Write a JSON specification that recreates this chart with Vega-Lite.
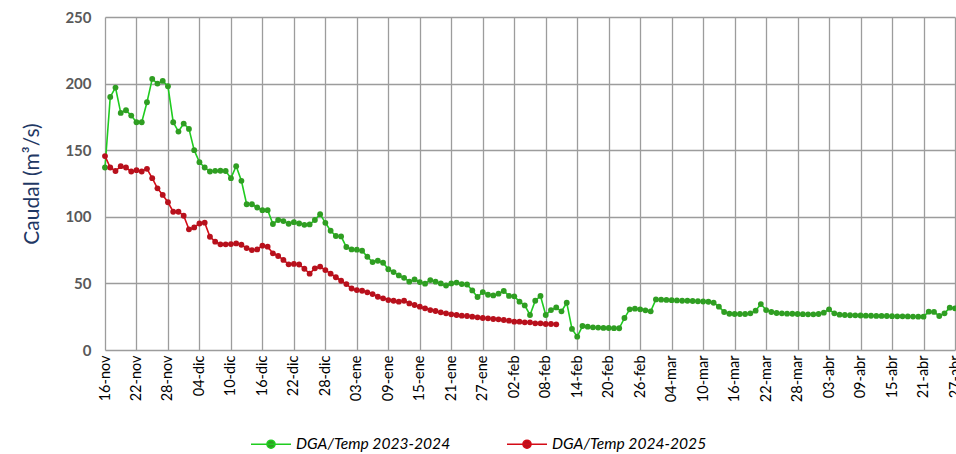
{
  "$schema": "https://vega.github.io/schema/vega-lite/v6.json",
  "width": 850,
  "height": 333,
  "autosize": {"type": "none"},
  "padding": {"left": 105, "top": 17, "right": 1, "bottom": 104},
  "background": "white",
  "config": {"view": {"stroke": null}, "font": "Lato"},
  "data": {"values": [
    {"fecha":"2024-11-16","serie":"DGA/Temp 2023-2024","caudal":137},
    {"fecha":"2024-11-17","serie":"DGA/Temp 2023-2024","caudal":190},
    {"fecha":"2024-11-18","serie":"DGA/Temp 2023-2024","caudal":197},
    {"fecha":"2024-11-19","serie":"DGA/Temp 2023-2024","caudal":178},
    {"fecha":"2024-11-20","serie":"DGA/Temp 2023-2024","caudal":180},
    {"fecha":"2024-11-21","serie":"DGA/Temp 2023-2024","caudal":176},
    {"fecha":"2024-11-22","serie":"DGA/Temp 2023-2024","caudal":171},
    {"fecha":"2024-11-23","serie":"DGA/Temp 2023-2024","caudal":171},
    {"fecha":"2024-11-24","serie":"DGA/Temp 2023-2024","caudal":186},
    {"fecha":"2024-11-25","serie":"DGA/Temp 2023-2024","caudal":203.5},
    {"fecha":"2024-11-26","serie":"DGA/Temp 2023-2024","caudal":200},
    {"fecha":"2024-11-27","serie":"DGA/Temp 2023-2024","caudal":202},
    {"fecha":"2024-11-28","serie":"DGA/Temp 2023-2024","caudal":198},
    {"fecha":"2024-11-29","serie":"DGA/Temp 2023-2024","caudal":171},
    {"fecha":"2024-11-30","serie":"DGA/Temp 2023-2024","caudal":164},
    {"fecha":"2024-12-01","serie":"DGA/Temp 2023-2024","caudal":170},
    {"fecha":"2024-12-02","serie":"DGA/Temp 2023-2024","caudal":166},
    {"fecha":"2024-12-03","serie":"DGA/Temp 2023-2024","caudal":150},
    {"fecha":"2024-12-04","serie":"DGA/Temp 2023-2024","caudal":141},
    {"fecha":"2024-12-05","serie":"DGA/Temp 2023-2024","caudal":137},
    {"fecha":"2024-12-06","serie":"DGA/Temp 2023-2024","caudal":134},
    {"fecha":"2024-12-07","serie":"DGA/Temp 2023-2024","caudal":134.5},
    {"fecha":"2024-12-08","serie":"DGA/Temp 2023-2024","caudal":134.6},
    {"fecha":"2024-12-09","serie":"DGA/Temp 2023-2024","caudal":134.4},
    {"fecha":"2024-12-10","serie":"DGA/Temp 2023-2024","caudal":129},
    {"fecha":"2024-12-11","serie":"DGA/Temp 2023-2024","caudal":138},
    {"fecha":"2024-12-12","serie":"DGA/Temp 2023-2024","caudal":127},
    {"fecha":"2024-12-13","serie":"DGA/Temp 2023-2024","caudal":109.4},
    {"fecha":"2024-12-14","serie":"DGA/Temp 2023-2024","caudal":109.4},
    {"fecha":"2024-12-15","serie":"DGA/Temp 2023-2024","caudal":107},
    {"fecha":"2024-12-16","serie":"DGA/Temp 2023-2024","caudal":105},
    {"fecha":"2024-12-17","serie":"DGA/Temp 2023-2024","caudal":105},
    {"fecha":"2024-12-18","serie":"DGA/Temp 2023-2024","caudal":94.6},
    {"fecha":"2024-12-19","serie":"DGA/Temp 2023-2024","caudal":97.6},
    {"fecha":"2024-12-20","serie":"DGA/Temp 2023-2024","caudal":96.8},
    {"fecha":"2024-12-21","serie":"DGA/Temp 2023-2024","caudal":94.8},
    {"fecha":"2024-12-22","serie":"DGA/Temp 2023-2024","caudal":96},
    {"fecha":"2024-12-23","serie":"DGA/Temp 2023-2024","caudal":95},
    {"fecha":"2024-12-24","serie":"DGA/Temp 2023-2024","caudal":94},
    {"fecha":"2024-12-25","serie":"DGA/Temp 2023-2024","caudal":94.3},
    {"fecha":"2024-12-26","serie":"DGA/Temp 2023-2024","caudal":97.6},
    {"fecha":"2024-12-27","serie":"DGA/Temp 2023-2024","caudal":102},
    {"fecha":"2024-12-28","serie":"DGA/Temp 2023-2024","caudal":95.5},
    {"fecha":"2024-12-29","serie":"DGA/Temp 2023-2024","caudal":89.5},
    {"fecha":"2024-12-30","serie":"DGA/Temp 2023-2024","caudal":85.6},
    {"fecha":"2024-12-31","serie":"DGA/Temp 2023-2024","caudal":85.3},
    {"fecha":"2025-01-01","serie":"DGA/Temp 2023-2024","caudal":77.3},
    {"fecha":"2025-01-02","serie":"DGA/Temp 2023-2024","caudal":75.5},
    {"fecha":"2025-01-03","serie":"DGA/Temp 2023-2024","caudal":75.3},
    {"fecha":"2025-01-04","serie":"DGA/Temp 2023-2024","caudal":74.5},
    {"fecha":"2025-01-05","serie":"DGA/Temp 2023-2024","caudal":70},
    {"fecha":"2025-01-06","serie":"DGA/Temp 2023-2024","caudal":66},
    {"fecha":"2025-01-07","serie":"DGA/Temp 2023-2024","caudal":67},
    {"fecha":"2025-01-08","serie":"DGA/Temp 2023-2024","caudal":65.5},
    {"fecha":"2025-01-09","serie":"DGA/Temp 2023-2024","caudal":60.6},
    {"fecha":"2025-01-10","serie":"DGA/Temp 2023-2024","caudal":58.5},
    {"fecha":"2025-01-11","serie":"DGA/Temp 2023-2024","caudal":56},
    {"fecha":"2025-01-12","serie":"DGA/Temp 2023-2024","caudal":54.2},
    {"fecha":"2025-01-13","serie":"DGA/Temp 2023-2024","caudal":51.3},
    {"fecha":"2025-01-14","serie":"DGA/Temp 2023-2024","caudal":53},
    {"fecha":"2025-01-15","serie":"DGA/Temp 2023-2024","caudal":51},
    {"fecha":"2025-01-16","serie":"DGA/Temp 2023-2024","caudal":49.8},
    {"fecha":"2025-01-17","serie":"DGA/Temp 2023-2024","caudal":52.5},
    {"fecha":"2025-01-18","serie":"DGA/Temp 2023-2024","caudal":51.3},
    {"fecha":"2025-01-19","serie":"DGA/Temp 2023-2024","caudal":50},
    {"fecha":"2025-01-20","serie":"DGA/Temp 2023-2024","caudal":48.4},
    {"fecha":"2025-01-21","serie":"DGA/Temp 2023-2024","caudal":50},
    {"fecha":"2025-01-22","serie":"DGA/Temp 2023-2024","caudal":50.6},
    {"fecha":"2025-01-23","serie":"DGA/Temp 2023-2024","caudal":49.5},
    {"fecha":"2025-01-24","serie":"DGA/Temp 2023-2024","caudal":49.2},
    {"fecha":"2025-01-25","serie":"DGA/Temp 2023-2024","caudal":44.7},
    {"fecha":"2025-01-26","serie":"DGA/Temp 2023-2024","caudal":39.8},
    {"fecha":"2025-01-27","serie":"DGA/Temp 2023-2024","caudal":43.5},
    {"fecha":"2025-01-28","serie":"DGA/Temp 2023-2024","caudal":41.5},
    {"fecha":"2025-01-29","serie":"DGA/Temp 2023-2024","caudal":41},
    {"fecha":"2025-01-30","serie":"DGA/Temp 2023-2024","caudal":42.3},
    {"fecha":"2025-01-31","serie":"DGA/Temp 2023-2024","caudal":44.3},
    {"fecha":"2025-02-01","serie":"DGA/Temp 2023-2024","caudal":40.6},
    {"fecha":"2025-02-02","serie":"DGA/Temp 2023-2024","caudal":40.3},
    {"fecha":"2025-02-03","serie":"DGA/Temp 2023-2024","caudal":36.3},
    {"fecha":"2025-02-04","serie":"DGA/Temp 2023-2024","caudal":33.5},
    {"fecha":"2025-02-05","serie":"DGA/Temp 2023-2024","caudal":26.3},
    {"fecha":"2025-02-06","serie":"DGA/Temp 2023-2024","caudal":37},
    {"fecha":"2025-02-07","serie":"DGA/Temp 2023-2024","caudal":40.6},
    {"fecha":"2025-02-08","serie":"DGA/Temp 2023-2024","caudal":26.3},
    {"fecha":"2025-02-09","serie":"DGA/Temp 2023-2024","caudal":30},
    {"fecha":"2025-02-10","serie":"DGA/Temp 2023-2024","caudal":32},
    {"fecha":"2025-02-11","serie":"DGA/Temp 2023-2024","caudal":29},
    {"fecha":"2025-02-12","serie":"DGA/Temp 2023-2024","caudal":35.5},
    {"fecha":"2025-02-13","serie":"DGA/Temp 2023-2024","caudal":15.8},
    {"fecha":"2025-02-14","serie":"DGA/Temp 2023-2024","caudal":10},
    {"fecha":"2025-02-15","serie":"DGA/Temp 2023-2024","caudal":18},
    {"fecha":"2025-02-16","serie":"DGA/Temp 2023-2024","caudal":17.5},
    {"fecha":"2025-02-17","serie":"DGA/Temp 2023-2024","caudal":17},
    {"fecha":"2025-02-18","serie":"DGA/Temp 2023-2024","caudal":16.8},
    {"fecha":"2025-02-19","serie":"DGA/Temp 2023-2024","caudal":16.6},
    {"fecha":"2025-02-20","serie":"DGA/Temp 2023-2024","caudal":16.5},
    {"fecha":"2025-02-21","serie":"DGA/Temp 2023-2024","caudal":16.4},
    {"fecha":"2025-02-22","serie":"DGA/Temp 2023-2024","caudal":16.3},
    {"fecha":"2025-02-23","serie":"DGA/Temp 2023-2024","caudal":24},
    {"fecha":"2025-02-24","serie":"DGA/Temp 2023-2024","caudal":30.5},
    {"fecha":"2025-02-25","serie":"DGA/Temp 2023-2024","caudal":31},
    {"fecha":"2025-02-26","serie":"DGA/Temp 2023-2024","caudal":30.5},
    {"fecha":"2025-02-27","serie":"DGA/Temp 2023-2024","caudal":29.8},
    {"fecha":"2025-02-28","serie":"DGA/Temp 2023-2024","caudal":29},
    {"fecha":"2025-03-01","serie":"DGA/Temp 2023-2024","caudal":38},
    {"fecha":"2025-03-02","serie":"DGA/Temp 2023-2024","caudal":37.8},
    {"fecha":"2025-03-03","serie":"DGA/Temp 2023-2024","caudal":37.6},
    {"fecha":"2025-03-04","serie":"DGA/Temp 2023-2024","caudal":37.4},
    {"fecha":"2025-03-05","serie":"DGA/Temp 2023-2024","caudal":37.2},
    {"fecha":"2025-03-06","serie":"DGA/Temp 2023-2024","caudal":37},
    {"fecha":"2025-03-07","serie":"DGA/Temp 2023-2024","caudal":37},
    {"fecha":"2025-03-08","serie":"DGA/Temp 2023-2024","caudal":36.8},
    {"fecha":"2025-03-09","serie":"DGA/Temp 2023-2024","caudal":36.6},
    {"fecha":"2025-03-10","serie":"DGA/Temp 2023-2024","caudal":36.4},
    {"fecha":"2025-03-11","serie":"DGA/Temp 2023-2024","caudal":36.2},
    {"fecha":"2025-03-12","serie":"DGA/Temp 2023-2024","caudal":35.5},
    {"fecha":"2025-03-13","serie":"DGA/Temp 2023-2024","caudal":32.5},
    {"fecha":"2025-03-14","serie":"DGA/Temp 2023-2024","caudal":28.5},
    {"fecha":"2025-03-15","serie":"DGA/Temp 2023-2024","caudal":27.2},
    {"fecha":"2025-03-16","serie":"DGA/Temp 2023-2024","caudal":27},
    {"fecha":"2025-03-17","serie":"DGA/Temp 2023-2024","caudal":27},
    {"fecha":"2025-03-18","serie":"DGA/Temp 2023-2024","caudal":27},
    {"fecha":"2025-03-19","serie":"DGA/Temp 2023-2024","caudal":27.5},
    {"fecha":"2025-03-20","serie":"DGA/Temp 2023-2024","caudal":29.5},
    {"fecha":"2025-03-21","serie":"DGA/Temp 2023-2024","caudal":34.5},
    {"fecha":"2025-03-22","serie":"DGA/Temp 2023-2024","caudal":30},
    {"fecha":"2025-03-23","serie":"DGA/Temp 2023-2024","caudal":28.5},
    {"fecha":"2025-03-24","serie":"DGA/Temp 2023-2024","caudal":27.8},
    {"fecha":"2025-03-25","serie":"DGA/Temp 2023-2024","caudal":27.5},
    {"fecha":"2025-03-26","serie":"DGA/Temp 2023-2024","caudal":27.3},
    {"fecha":"2025-03-27","serie":"DGA/Temp 2023-2024","caudal":27.2},
    {"fecha":"2025-03-28","serie":"DGA/Temp 2023-2024","caudal":27},
    {"fecha":"2025-03-29","serie":"DGA/Temp 2023-2024","caudal":26.9},
    {"fecha":"2025-03-30","serie":"DGA/Temp 2023-2024","caudal":26.8},
    {"fecha":"2025-03-31","serie":"DGA/Temp 2023-2024","caudal":26.8},
    {"fecha":"2025-04-01","serie":"DGA/Temp 2023-2024","caudal":27},
    {"fecha":"2025-04-02","serie":"DGA/Temp 2023-2024","caudal":28},
    {"fecha":"2025-04-03","serie":"DGA/Temp 2023-2024","caudal":30.5},
    {"fecha":"2025-04-04","serie":"DGA/Temp 2023-2024","caudal":27.5},
    {"fecha":"2025-04-05","serie":"DGA/Temp 2023-2024","caudal":26.5},
    {"fecha":"2025-04-06","serie":"DGA/Temp 2023-2024","caudal":26.3},
    {"fecha":"2025-04-07","serie":"DGA/Temp 2023-2024","caudal":26.1},
    {"fecha":"2025-04-08","serie":"DGA/Temp 2023-2024","caudal":26},
    {"fecha":"2025-04-09","serie":"DGA/Temp 2023-2024","caudal":25.9},
    {"fecha":"2025-04-10","serie":"DGA/Temp 2023-2024","caudal":25.8},
    {"fecha":"2025-04-11","serie":"DGA/Temp 2023-2024","caudal":25.7},
    {"fecha":"2025-04-12","serie":"DGA/Temp 2023-2024","caudal":25.6},
    {"fecha":"2025-04-13","serie":"DGA/Temp 2023-2024","caudal":25.6},
    {"fecha":"2025-04-14","serie":"DGA/Temp 2023-2024","caudal":25.5},
    {"fecha":"2025-04-15","serie":"DGA/Temp 2023-2024","caudal":25.4},
    {"fecha":"2025-04-16","serie":"DGA/Temp 2023-2024","caudal":25.3},
    {"fecha":"2025-04-17","serie":"DGA/Temp 2023-2024","caudal":25.3},
    {"fecha":"2025-04-18","serie":"DGA/Temp 2023-2024","caudal":25.2},
    {"fecha":"2025-04-19","serie":"DGA/Temp 2023-2024","caudal":25.1},
    {"fecha":"2025-04-20","serie":"DGA/Temp 2023-2024","caudal":25},
    {"fecha":"2025-04-21","serie":"DGA/Temp 2023-2024","caudal":25},
    {"fecha":"2025-04-22","serie":"DGA/Temp 2023-2024","caudal":28.8},
    {"fecha":"2025-04-23","serie":"DGA/Temp 2023-2024","caudal":28.6},
    {"fecha":"2025-04-24","serie":"DGA/Temp 2023-2024","caudal":25.5},
    {"fecha":"2025-04-25","serie":"DGA/Temp 2023-2024","caudal":27.5},
    {"fecha":"2025-04-26","serie":"DGA/Temp 2023-2024","caudal":31.8},
    {"fecha":"2025-04-27","serie":"DGA/Temp 2023-2024","caudal":31.3},
    {"fecha":"2024-11-16","serie":"DGA/Temp 2024-2025","caudal":145.6},
    {"fecha":"2024-11-17","serie":"DGA/Temp 2024-2025","caudal":137},
    {"fecha":"2024-11-18","serie":"DGA/Temp 2024-2025","caudal":134.4},
    {"fecha":"2024-11-19","serie":"DGA/Temp 2024-2025","caudal":138},
    {"fecha":"2024-11-20","serie":"DGA/Temp 2024-2025","caudal":137},
    {"fecha":"2024-11-21","serie":"DGA/Temp 2024-2025","caudal":134},
    {"fecha":"2024-11-22","serie":"DGA/Temp 2024-2025","caudal":135},
    {"fecha":"2024-11-23","serie":"DGA/Temp 2024-2025","caudal":134},
    {"fecha":"2024-11-24","serie":"DGA/Temp 2024-2025","caudal":136},
    {"fecha":"2024-11-25","serie":"DGA/Temp 2024-2025","caudal":129},
    {"fecha":"2024-11-26","serie":"DGA/Temp 2024-2025","caudal":121.4},
    {"fecha":"2024-11-27","serie":"DGA/Temp 2024-2025","caudal":116.4},
    {"fecha":"2024-11-28","serie":"DGA/Temp 2024-2025","caudal":110.9},
    {"fecha":"2024-11-29","serie":"DGA/Temp 2024-2025","caudal":103.8},
    {"fecha":"2024-11-30","serie":"DGA/Temp 2024-2025","caudal":103.8},
    {"fecha":"2024-12-01","serie":"DGA/Temp 2024-2025","caudal":100.8},
    {"fecha":"2024-12-02","serie":"DGA/Temp 2024-2025","caudal":90.6},
    {"fecha":"2024-12-03","serie":"DGA/Temp 2024-2025","caudal":92},
    {"fecha":"2024-12-04","serie":"DGA/Temp 2024-2025","caudal":95},
    {"fecha":"2024-12-05","serie":"DGA/Temp 2024-2025","caudal":95.6},
    {"fecha":"2024-12-06","serie":"DGA/Temp 2024-2025","caudal":85},
    {"fecha":"2024-12-07","serie":"DGA/Temp 2024-2025","caudal":81.3},
    {"fecha":"2024-12-08","serie":"DGA/Temp 2024-2025","caudal":79.3},
    {"fecha":"2024-12-09","serie":"DGA/Temp 2024-2025","caudal":79.3},
    {"fecha":"2024-12-10","serie":"DGA/Temp 2024-2025","caudal":79.5},
    {"fecha":"2024-12-11","serie":"DGA/Temp 2024-2025","caudal":80},
    {"fecha":"2024-12-12","serie":"DGA/Temp 2024-2025","caudal":79},
    {"fecha":"2024-12-13","serie":"DGA/Temp 2024-2025","caudal":76.5},
    {"fecha":"2024-12-14","serie":"DGA/Temp 2024-2025","caudal":75},
    {"fecha":"2024-12-15","serie":"DGA/Temp 2024-2025","caudal":75.5},
    {"fecha":"2024-12-16","serie":"DGA/Temp 2024-2025","caudal":78.3},
    {"fecha":"2024-12-17","serie":"DGA/Temp 2024-2025","caudal":77.6},
    {"fecha":"2024-12-18","serie":"DGA/Temp 2024-2025","caudal":72.6},
    {"fecha":"2024-12-19","serie":"DGA/Temp 2024-2025","caudal":70.6},
    {"fecha":"2024-12-20","serie":"DGA/Temp 2024-2025","caudal":67.6},
    {"fecha":"2024-12-21","serie":"DGA/Temp 2024-2025","caudal":64.3},
    {"fecha":"2024-12-22","serie":"DGA/Temp 2024-2025","caudal":64.6},
    {"fecha":"2024-12-23","serie":"DGA/Temp 2024-2025","caudal":64.2},
    {"fecha":"2024-12-24","serie":"DGA/Temp 2024-2025","caudal":61},
    {"fecha":"2024-12-25","serie":"DGA/Temp 2024-2025","caudal":57.3},
    {"fecha":"2024-12-26","serie":"DGA/Temp 2024-2025","caudal":61.3},
    {"fecha":"2024-12-27","serie":"DGA/Temp 2024-2025","caudal":62.6},
    {"fecha":"2024-12-28","serie":"DGA/Temp 2024-2025","caudal":60},
    {"fecha":"2024-12-29","serie":"DGA/Temp 2024-2025","caudal":57.3},
    {"fecha":"2024-12-30","serie":"DGA/Temp 2024-2025","caudal":54.6},
    {"fecha":"2024-12-31","serie":"DGA/Temp 2024-2025","caudal":52},
    {"fecha":"2025-01-01","serie":"DGA/Temp 2024-2025","caudal":49.5},
    {"fecha":"2025-01-02","serie":"DGA/Temp 2024-2025","caudal":46.2},
    {"fecha":"2025-01-03","serie":"DGA/Temp 2024-2025","caudal":45},
    {"fecha":"2025-01-04","serie":"DGA/Temp 2024-2025","caudal":44.5},
    {"fecha":"2025-01-05","serie":"DGA/Temp 2024-2025","caudal":43.3},
    {"fecha":"2025-01-06","serie":"DGA/Temp 2024-2025","caudal":42},
    {"fecha":"2025-01-07","serie":"DGA/Temp 2024-2025","caudal":40},
    {"fecha":"2025-01-08","serie":"DGA/Temp 2024-2025","caudal":38.8},
    {"fecha":"2025-01-09","serie":"DGA/Temp 2024-2025","caudal":37.5},
    {"fecha":"2025-01-10","serie":"DGA/Temp 2024-2025","caudal":37},
    {"fecha":"2025-01-11","serie":"DGA/Temp 2024-2025","caudal":36.3},
    {"fecha":"2025-01-12","serie":"DGA/Temp 2024-2025","caudal":37},
    {"fecha":"2025-01-13","serie":"DGA/Temp 2024-2025","caudal":35},
    {"fecha":"2025-01-14","serie":"DGA/Temp 2024-2025","caudal":33.8},
    {"fecha":"2025-01-15","serie":"DGA/Temp 2024-2025","caudal":32.5},
    {"fecha":"2025-01-16","serie":"DGA/Temp 2024-2025","caudal":31.3},
    {"fecha":"2025-01-17","serie":"DGA/Temp 2024-2025","caudal":30},
    {"fecha":"2025-01-18","serie":"DGA/Temp 2024-2025","caudal":29.3},
    {"fecha":"2025-01-19","serie":"DGA/Temp 2024-2025","caudal":28.3},
    {"fecha":"2025-01-20","serie":"DGA/Temp 2024-2025","caudal":27.5},
    {"fecha":"2025-01-21","serie":"DGA/Temp 2024-2025","caudal":26.8},
    {"fecha":"2025-01-22","serie":"DGA/Temp 2024-2025","caudal":26.3},
    {"fecha":"2025-01-23","serie":"DGA/Temp 2024-2025","caudal":25.8},
    {"fecha":"2025-01-24","serie":"DGA/Temp 2024-2025","caudal":25.5},
    {"fecha":"2025-01-25","serie":"DGA/Temp 2024-2025","caudal":25},
    {"fecha":"2025-01-26","serie":"DGA/Temp 2024-2025","caudal":24.5},
    {"fecha":"2025-01-27","serie":"DGA/Temp 2024-2025","caudal":24},
    {"fecha":"2025-01-28","serie":"DGA/Temp 2024-2025","caudal":23.8},
    {"fecha":"2025-01-29","serie":"DGA/Temp 2024-2025","caudal":23.3},
    {"fecha":"2025-01-30","serie":"DGA/Temp 2024-2025","caudal":23},
    {"fecha":"2025-01-31","serie":"DGA/Temp 2024-2025","caudal":22.5},
    {"fecha":"2025-02-01","serie":"DGA/Temp 2024-2025","caudal":22},
    {"fecha":"2025-02-02","serie":"DGA/Temp 2024-2025","caudal":21.3},
    {"fecha":"2025-02-03","serie":"DGA/Temp 2024-2025","caudal":21.3},
    {"fecha":"2025-02-04","serie":"DGA/Temp 2024-2025","caudal":20.8},
    {"fecha":"2025-02-05","serie":"DGA/Temp 2024-2025","caudal":20.8},
    {"fecha":"2025-02-06","serie":"DGA/Temp 2024-2025","caudal":20},
    {"fecha":"2025-02-07","serie":"DGA/Temp 2024-2025","caudal":20},
    {"fecha":"2025-02-08","serie":"DGA/Temp 2024-2025","caudal":19.5},
    {"fecha":"2025-02-09","serie":"DGA/Temp 2024-2025","caudal":19.5},
    {"fecha":"2025-02-10","serie":"DGA/Temp 2024-2025","caudal":19.3}
  ]},
  "encoding": {
    "x": {
      "field": "fecha", "type": "temporal",
      "scale": {"type": "utc", "domain": [{"year": 2024, "month": 11, "date": 16, "utc": true}, {"year": 2025, "month": 4, "date": 27, "utc": true}]},
      "axis": {
        "title": null,
        "values": [
          {"year":2024,"month":11,"date":16,"utc":true},{"year":2024,"month":11,"date":22,"utc":true},{"year":2024,"month":11,"date":28,"utc":true},
          {"year":2024,"month":12,"date":4,"utc":true},{"year":2024,"month":12,"date":10,"utc":true},{"year":2024,"month":12,"date":16,"utc":true},
          {"year":2024,"month":12,"date":22,"utc":true},{"year":2024,"month":12,"date":28,"utc":true},{"year":2025,"month":1,"date":3,"utc":true},
          {"year":2025,"month":1,"date":9,"utc":true},{"year":2025,"month":1,"date":15,"utc":true},{"year":2025,"month":1,"date":21,"utc":true},
          {"year":2025,"month":1,"date":27,"utc":true},{"year":2025,"month":2,"date":2,"utc":true},{"year":2025,"month":2,"date":8,"utc":true},
          {"year":2025,"month":2,"date":14,"utc":true},{"year":2025,"month":2,"date":20,"utc":true},{"year":2025,"month":2,"date":26,"utc":true},
          {"year":2025,"month":3,"date":4,"utc":true},{"year":2025,"month":3,"date":10,"utc":true},{"year":2025,"month":3,"date":16,"utc":true},
          {"year":2025,"month":3,"date":22,"utc":true},{"year":2025,"month":3,"date":28,"utc":true},{"year":2025,"month":4,"date":3,"utc":true},
          {"year":2025,"month":4,"date":9,"utc":true},{"year":2025,"month":4,"date":15,"utc":true},{"year":2025,"month":4,"date":21,"utc":true},
          {"year":2025,"month":4,"date":27,"utc":true}
        ],
        "labelExpr": "utcFormat(datum.value, '%d') + '-' + ['ene','feb','mar','abr','may','jun','jul','ago','sep','oct','nov','dic'][utcmonth(datum.value)]",
        "labelAngle": -90,
        "labelFontSize": 14.5,
        "labelColor": "#000000",
        "labelPadding": 5,
        "labelOverlap": false,
        "labelFlush": false,
        "ticks": false,
        "domain": false,
        "grid": true,
        "gridColor": "#9c9c9c",
        "gridWidth": 1.3
      }
    },
    "y": {
      "field": "caudal", "type": "quantitative",
      "scale": {"domain": [0, 250]},
      "axis": {
        "title": "Caudal (m³/s)",
        "titleFontSize": 21,
        "titleFontWeight": "normal",
        "titleColor": "#1f3864",
        "titlePadding": 22,
        "values": [0, 50, 100, 150, 200, 250],
        "labelFontSize": 15,
        "labelFontWeight": "bold",
        "labelColor": "#595959",
        "labelPadding": 14,
        "ticks": false,
        "domain": false,
        "grid": true,
        "gridColor": "#9c9c9c",
        "gridWidth": 1.3
      }
    }
  },
  "layer": [
    {
      "mark": {"type": "line", "strokeWidth": 1.6},
      "encoding": {
        "color": {
          "field": "serie", "type": "nominal",
          "scale": {"domain": ["DGA/Temp 2023-2024", "DGA/Temp 2024-2025"], "range": ["#1fcc1f", "#d40b16"]},
          "legend": {
            "title": null,
            "orient": "none",
            "legendX": 145,
            "legendY": 406,
            "direction": "horizontal",
            "symbolType": "M-1,0L1,0M0.2,0A0.2,0.2,0,1,1,-0.2,0A0.2,0.2,0,1,1,0.2,0",
            "symbolSize": 1600,
            "symbolStrokeWidth": 1.6,
            "labelFontSize": 15.6,
            "labelFontStyle": "italic",
            "labelColor": "#000000",
            "labelOffset": 4,
            "columnPadding": 52,
            "labelLimit": 400,
            "encode": {"symbols": {"update": {"fill": {"scale": "fill", "field": "value"}}}}
          }
        }
      }
    },
    {
      "mark": {"type": "point", "filled": true, "size": 34, "opacity": 1},
      "encoding": {
        "fill": {
          "field": "serie", "type": "nominal",
          "scale": {"domain": ["DGA/Temp 2023-2024", "DGA/Temp 2024-2025"], "range": ["#2f9e22", "#b8101c"]},
          "legend": null
        }
      }
    }
  ]
}
